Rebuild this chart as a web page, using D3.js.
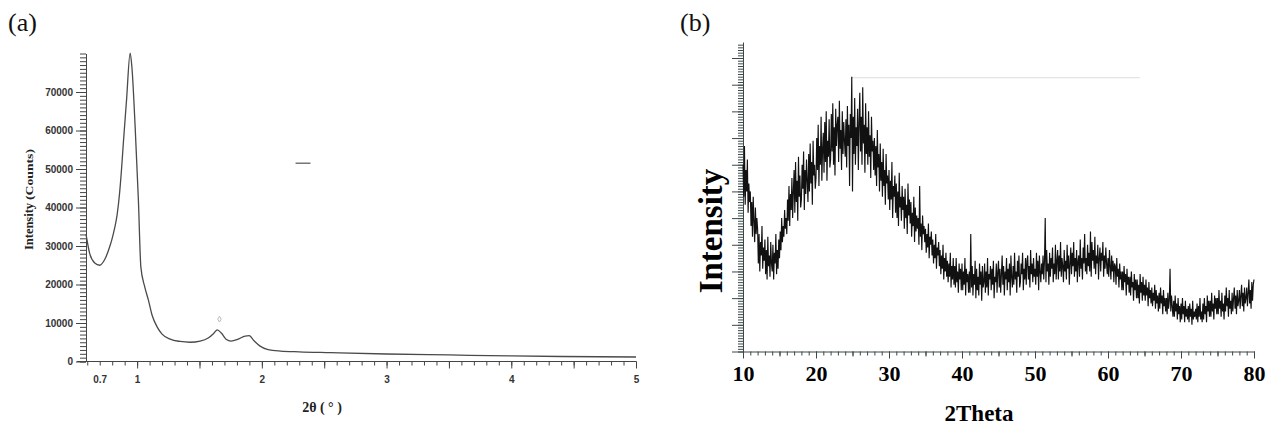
<!DOCTYPE html>
<html>
<head>
<meta charset="utf-8">
<script src="https://cdn.jsdelivr.net/npm/d3@7"></script>
<style>
  body { margin: 0; background: #fff; }
  svg { display: block; }
</style>
</head>
<body>
<svg id="chart"></svg>
<script>
const width = 1267;
const height = 426;

// panel (a): small angle pattern
const thetaA = [0.59, 0.62, 0.66, 0.70, 0.74, 0.78, 0.80, 0.82, 0.84, 0.86, 0.875, 0.89, 0.915, 0.944, 0.958, 0.984, 1.01, 1.03,
  1.06, 1.09, 1.12, 1.16, 1.20, 1.265, 1.345, 1.425, 1.505, 1.57, 1.617, 1.642, 1.675, 1.713, 1.754, 1.81, 1.866, 1.898,
  1.94, 1.986, 2.05, 2.15, 2.3, 2.55, 3.0, 3.5, 4.0, 4.4, 5.0];
const countsA = [33100, 28000, 25600, 25000, 26500, 29800, 32000, 34700, 38200, 44000, 50000, 57000, 67900, 80100, 76500, 61000, 42000, 24500,
  19500, 16000, 12000, 9000, 7100, 5800, 5200, 5000, 5300, 6100, 7400, 8200, 7400, 5800, 5300, 5800, 6600, 6700,
  5300, 4000, 3100, 2700, 2500, 2300, 1950, 1700, 1450, 1300, 1170];
const yTicksA = [0, 10000, 20000, 30000, 40000, 50000, 60000, 70000];
const xTicksA = [0.7, 1, 2, 3, 4, 5];
// the little scan marks in panel (a)
const dotA = [1.66, 11000];
const dashA = [[2.27, 51500], [2.39, 51500]];

// panel (b): wide angle pattern, one reading every 0.1 deg from 10 deg (one row per degree)
const startB = 10;
const stepB = 0.1;
const intensityB = [
  70, 58, 77, 55, 68, 60, 72, 52, 63, 56,
  60, 47, 56, 43, 58, 49, 41, 54, 44, 50,
  46, 33, 44, 30, 41, 36, 47, 31, 39, 34,
  42, 29, 38, 27, 43, 32, 36, 28, 41, 33,
  30, 40, 27, 37, 33, 44, 29, 38, 31, 42,
  35, 45, 38, 50, 41, 47, 43, 53, 46, 50,
  44, 57, 49, 62, 47, 59, 53, 65, 50, 60,
  68, 52, 71, 56, 64, 49, 73, 58, 66, 54,
  57, 70, 61, 75, 53, 68, 59, 72, 64, 56,
  74, 60, 78, 63, 71, 55, 79, 66, 70, 61,
  65, 80, 68, 85, 62, 77, 70, 88, 64, 76,
  82, 67, 86, 71, 90, 64, 79, 73, 87, 69,
  72, 89, 75, 93, 70, 84, 66, 91, 77, 85,
  88, 71, 94, 76, 83, 68, 90, 74, 86, 79,
  73, 87, 69, 92, 77, 85, 62, 89, 80, 103,
  60, 88, 74, 95, 70, 84, 77, 91, 68, 86,
  97, 75, 88, 70, 99, 78, 85, 67, 93, 74,
  84, 70, 90, 73, 81, 65, 88, 75, 79, 68,
  80, 66, 77, 62, 83, 69, 74, 60, 78, 64,
  71, 58, 76, 62, 68, 55, 74, 63, 66, 57,
  68, 53, 64, 57, 71, 50, 62, 58, 66, 52,
  63, 50, 60, 47, 67, 54, 58, 49, 62, 53,
  58, 46, 61, 50, 55, 44, 63, 51, 57, 48,
  56, 43, 52, 47, 58, 41, 54, 45, 51, 46,
  50, 40, 62, 43, 48, 38, 51, 44, 47, 41,
  46, 37, 44, 39, 48, 35, 43, 40, 45, 36,
  42, 33, 40, 35, 44, 31, 39, 36, 41, 32,
  38, 29, 36, 31, 40, 27, 35, 30, 37, 28,
  34, 26, 33, 28, 37, 24, 32, 27, 35, 25,
  32, 24, 35, 26, 30, 22, 33, 27, 31, 23,
  33, 23, 30, 25, 35, 21, 31, 26, 29, 22,
  30, 22, 44, 24, 32, 21, 29, 25, 34, 20,
  31, 23, 28, 21, 33, 25, 30, 19, 32, 24,
  26, 33, 22, 30, 24, 35, 21, 29, 27, 32,
  23, 31, 25, 34, 20, 28, 26, 33, 22, 30,
  34, 24, 31, 22, 29, 36, 25, 32, 21, 30,
  27, 35, 23, 31, 26, 33, 21, 36, 28, 24,
  32, 25, 37, 27, 30, 22, 34, 28, 36, 24,
  26, 33, 29, 37, 23, 31, 27, 35, 25, 34,
  36, 27, 32, 24, 38, 29, 33, 26, 35, 28,
  31, 25, 37, 28, 34, 23, 36, 30, 26, 33,
  29, 36, 27, 34, 50, 26, 38, 30, 33, 25,
  37, 28, 35, 31, 39, 26, 33, 29, 40, 27,
  34, 38, 27, 36, 30, 41, 28, 35, 32, 26,
  38, 30, 34, 27, 40, 31, 36, 25, 33, 39,
  29, 37, 32, 41, 28, 35, 30, 38, 26, 34,
  36, 28, 42, 31, 35, 27, 39, 33, 44, 30,
  35, 29, 40, 32, 37, 30, 45, 28, 41, 34,
  38, 31, 43, 29, 36, 33, 40, 27, 35, 39,
  30, 37, 34, 41, 28, 36, 31, 39, 33, 29,
  35, 28, 38, 32, 27, 36, 30, 34, 26, 33,
  32, 25, 35, 28, 31, 24, 33, 27, 30, 23,
  30, 23, 32, 26, 29, 21, 31, 25, 28, 22,
  28, 21, 30, 24, 26, 19, 29, 23, 27, 20,
  27, 20, 25, 18, 29, 22, 26, 19, 28, 21,
  25, 19, 27, 21, 24, 17, 26, 20, 23, 18,
  24, 17, 22, 19, 25, 16, 23, 18, 21, 15,
  22, 16, 24, 18, 21, 14, 23, 17, 20, 15,
  20, 14, 22, 16, 19, 31, 15, 21, 17, 13,
  19, 13, 21, 15, 18, 12, 20, 14, 17, 11,
  18, 12, 20, 14, 17, 11, 19, 13, 16, 12,
  17, 11, 18, 13, 16, 10, 19, 12, 15, 13,
  16, 12, 18, 11, 17, 13, 20, 12, 15, 11,
  18, 12, 20, 14, 17, 11, 21, 15, 19, 13,
  19, 13, 22, 15, 18, 12, 21, 16, 20, 14,
  20, 14, 23, 16, 19, 13, 22, 15, 18, 12,
  21, 15, 24, 17, 20, 13, 23, 16, 19, 14,
  22, 15, 20, 24, 16, 21, 14, 23, 17, 19,
  23, 16, 21, 25, 17, 22, 15, 24, 18, 20,
  24, 17, 22, 27, 18, 23, 16, 26, 19, 25,
  27
];
const xTicksB = [10, 20, 30, 40, 50, 60, 70, 80];
// faint scan line above panel (b)
const edgeB = [[24.9, 102.6], [64.4, 102.6]];

const svg = d3.select("#chart").attr("width", width).attr("height", height);
svg.append("rect").attr("width", width).attr("height", height).attr("fill", "#fff");

const styleAxis = (g, color) => {
  g.selectAll("path, line").attr("stroke", color);
};

// ---------- (a) ----------
const xA = d3.scaleLinear().domain([0.59, 5]).range([86, 636]);
const yA = d3.scaleLinear().domain([0, 80000]).range([361.5, 53.5]);
const gA = svg.append("g");
const colA = "#444";

gA.append("text").attr("x", 8).attr("y", 31)
  .style("font", "26px 'Liberation Serif'").attr("fill", "#111").text("(a)");

const yMinorA = gA.append("g").attr("transform", `translate(${xA.range()[0]},0)`)
  .call(d3.axisLeft(yA).tickValues(d3.range(0, 80001, 1000)).tickSize(6).tickSizeOuter(0).tickFormat(""));
styleAxis(yMinorA, colA);
const yMajorA = gA.append("g").attr("transform", `translate(${xA.range()[0]},0)`)
  .call(d3.axisLeft(yA).tickValues(yTicksA).tickSize(10).tickSizeOuter(0).tickPadding(3).tickFormat(d3.format("d")));
styleAxis(yMajorA, colA);
yMajorA.select(".domain").remove();
yMajorA.selectAll("text").style("font", "bold 10px 'Liberation Sans'").attr("fill", "#333");

const xAxisY = yA(0);
const xMinorA = gA.append("g").attr("transform", `translate(0,${xAxisY})`)
  .call(d3.axisBottom(xA).tickValues(d3.range(6, 51).map(i => i / 10)).tickSize(4).tickSizeOuter(0).tickFormat(""));
styleAxis(xMinorA, colA);
xMinorA.select(".domain").remove();
const xMajorA = gA.append("g").attr("transform", `translate(0,${xAxisY})`)
  .call(d3.axisBottom(xA).tickValues([1, 1.5, 2, 2.5, 3, 3.5, 4, 4.5, 5]).tickSize(7).tickSizeOuter(0).tickFormat(""));
styleAxis(xMajorA, colA);
xMajorA.select(".domain").remove();
const xLabA = gA.append("g").attr("transform", `translate(0,${xAxisY})`)
  .call(d3.axisBottom(xA).tickValues(xTicksA).tickSize(0).tickPadding(14).tickFormat(d3.format("")));
xLabA.select(".domain").remove();
xLabA.selectAll("text").style("font", "bold 10px 'Liberation Sans'").attr("fill", "#333");
gA.append("line")
  .attr("x1", xA.range()[0] - 9).attr("x2", xA.range()[1])
  .attr("y1", xAxisY).attr("y2", xAxisY)
  .attr("stroke", colA);

gA.append("path")
  .datum(thetaA.map((t, i) => [t, countsA[i]]))
  .attr("fill", "none").attr("stroke", "#4a4a4a").attr("stroke-width", 1.3)
  .attr("d", d3.line().x(d => xA(d[0])).y(d => yA(d[1])).curve(d3.curveMonotoneX));

gA.append("path")
  .attr("transform", `translate(${xA(dotA[0])},${yA(dotA[1])})`)
  .attr("d", d3.symbol(d3.symbolDiamond, 10)())
  .attr("fill", "none").attr("stroke", "#bbb");
gA.append("path")
  .attr("d", d3.line().x(d => xA(d[0])).y(d => yA(d[1]))(dashA))
  .attr("stroke", "#777").attr("stroke-width", 1.5);

gA.append("text")
  .attr("transform", "translate(33,250) rotate(-90)")
  .attr("textLength", 47).attr("lengthAdjust", "spacingAndGlyphs")
  .style("font", "bold 13px 'Liberation Serif'").attr("fill", "#222").text("Intensity");
gA.append("text")
  .attr("transform", "translate(33,200) rotate(-90)")
  .attr("textLength", 51).attr("lengthAdjust", "spacingAndGlyphs")
  .style("font", "bold 10.5px 'Liberation Serif'").attr("fill", "#222").text("(Counts)");
gA.append("text")
  .attr("x", 322).attr("y", 412).attr("text-anchor", "middle")
  .style("font", "bold 14px 'Liberation Serif'").attr("fill", "#222").text("2θ ( ° )");

// ---------- (b) ----------
const xB = d3.scaleLinear().domain([10, 80]).range([743, 1254]);
const yB = d3.scaleLinear().domain([0, 116]).range([351.5, 42]);
const gB = svg.append("g");
const colB = "#3c4848";

gB.append("text").attr("x", 680).attr("y", 31)
  .style("font", "26px 'Liberation Serif'").attr("fill", "#111").text("(b)");

const yMinorB = gB.append("g").attr("transform", `translate(${xB.range()[0]},0)`)
  .call(d3.axisLeft(yB).tickValues(d3.range(0, 116, 1)).tickSize(5).tickSizeOuter(0).tickFormat(""));
styleAxis(yMinorB, colB);
const yMajorB = gB.append("g").attr("transform", `translate(${xB.range()[0]},0)`)
  .call(d3.axisLeft(yB).tickValues(d3.range(0, 116, 10)).tickSize(11).tickSizeOuter(0).tickFormat(""));
styleAxis(yMajorB, colB);
yMajorB.select(".domain").remove();

const xAxisYB = yB(0);
const xMinorB = gB.append("g").attr("transform", `translate(0,${xAxisYB})`)
  .call(d3.axisBottom(xB).tickValues(d3.range(10, 81, 1)).tickSize(4).tickSizeOuter(0).tickFormat(""));
styleAxis(xMinorB, colB);
const xMidB = gB.append("g").attr("transform", `translate(0,${xAxisYB})`)
  .call(d3.axisBottom(xB).tickValues(d3.range(15, 80, 10)).tickSize(5).tickSizeOuter(0).tickFormat(""));
styleAxis(xMidB, colB);
xMidB.select(".domain").remove();
const xMajorB = gB.append("g").attr("transform", `translate(0,${xAxisYB})`)
  .call(d3.axisBottom(xB).tickValues(xTicksB).tickSize(7).tickSizeOuter(0).tickPadding(7).tickFormat(d3.format("d")));
styleAxis(xMajorB, colB);
xMajorB.select(".domain").remove();
xMajorB.selectAll("text").style("font", "bold 22px 'Liberation Serif'").attr("fill", "#000");

gB.append("path")
  .attr("d", d3.line().x(d => xB(d[0])).y(d => yB(d[1]))(edgeB))
  .attr("stroke", "#ddd").attr("fill", "none");

gB.append("path")
  .datum(intensityB.map((v, i) => [startB + i * stepB, v]))
  .attr("fill", "none").attr("stroke", "#111").attr("stroke-width", 1.15)
  .attr("d", d3.line().x(d => xB(d[0])).y(d => yB(d[1])));

gB.append("text")
  .attr("transform", "translate(722,231) rotate(-90)").attr("text-anchor", "middle")
  .style("font", "bold 33px 'Liberation Serif'").attr("fill", "#000").text("Intensity");
gB.append("text")
  .attr("x", 979).attr("y", 421).attr("text-anchor", "middle")
  .style("font", "bold 23px 'Liberation Serif'").attr("fill", "#000").text("2Theta");
</script>
</body>
</html>
